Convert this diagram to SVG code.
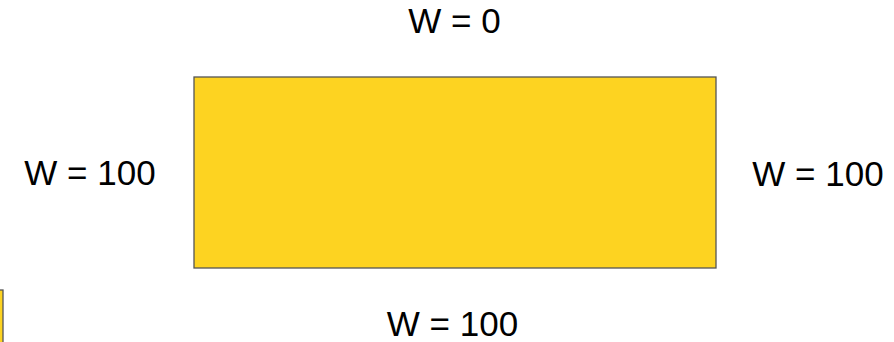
<svg xmlns="http://www.w3.org/2000/svg" width="894" height="342" viewBox="0 0 894 342">
<style>
.box{fill:#FDD321;stroke:#555555;stroke-width:1.3}
.lbl{font-family:"Liberation Sans",Arial,sans-serif;font-size:35px;fill:#000;text-anchor:middle}
</style>
<rect width="894" height="342" fill="#ffffff"/>
<g id="plate">
<rect class="box" x="194" y="77" width="522" height="191"/>
</g>
<g id="corner">
<rect class="box" x="-10" y="290" width="13" height="60"/>
</g>
<g id="labels">
<text id="top" class="lbl" x="454.5" y="33">W = 0</text>
<text id="left" class="lbl" x="90" y="185">W = 100</text>
<text id="right" class="lbl" x="818" y="186">W = 100</text>
<text id="bottom" class="lbl" x="452.5" y="336">W = 100</text>
</g>
<g id="connectors"></g>
</svg>
